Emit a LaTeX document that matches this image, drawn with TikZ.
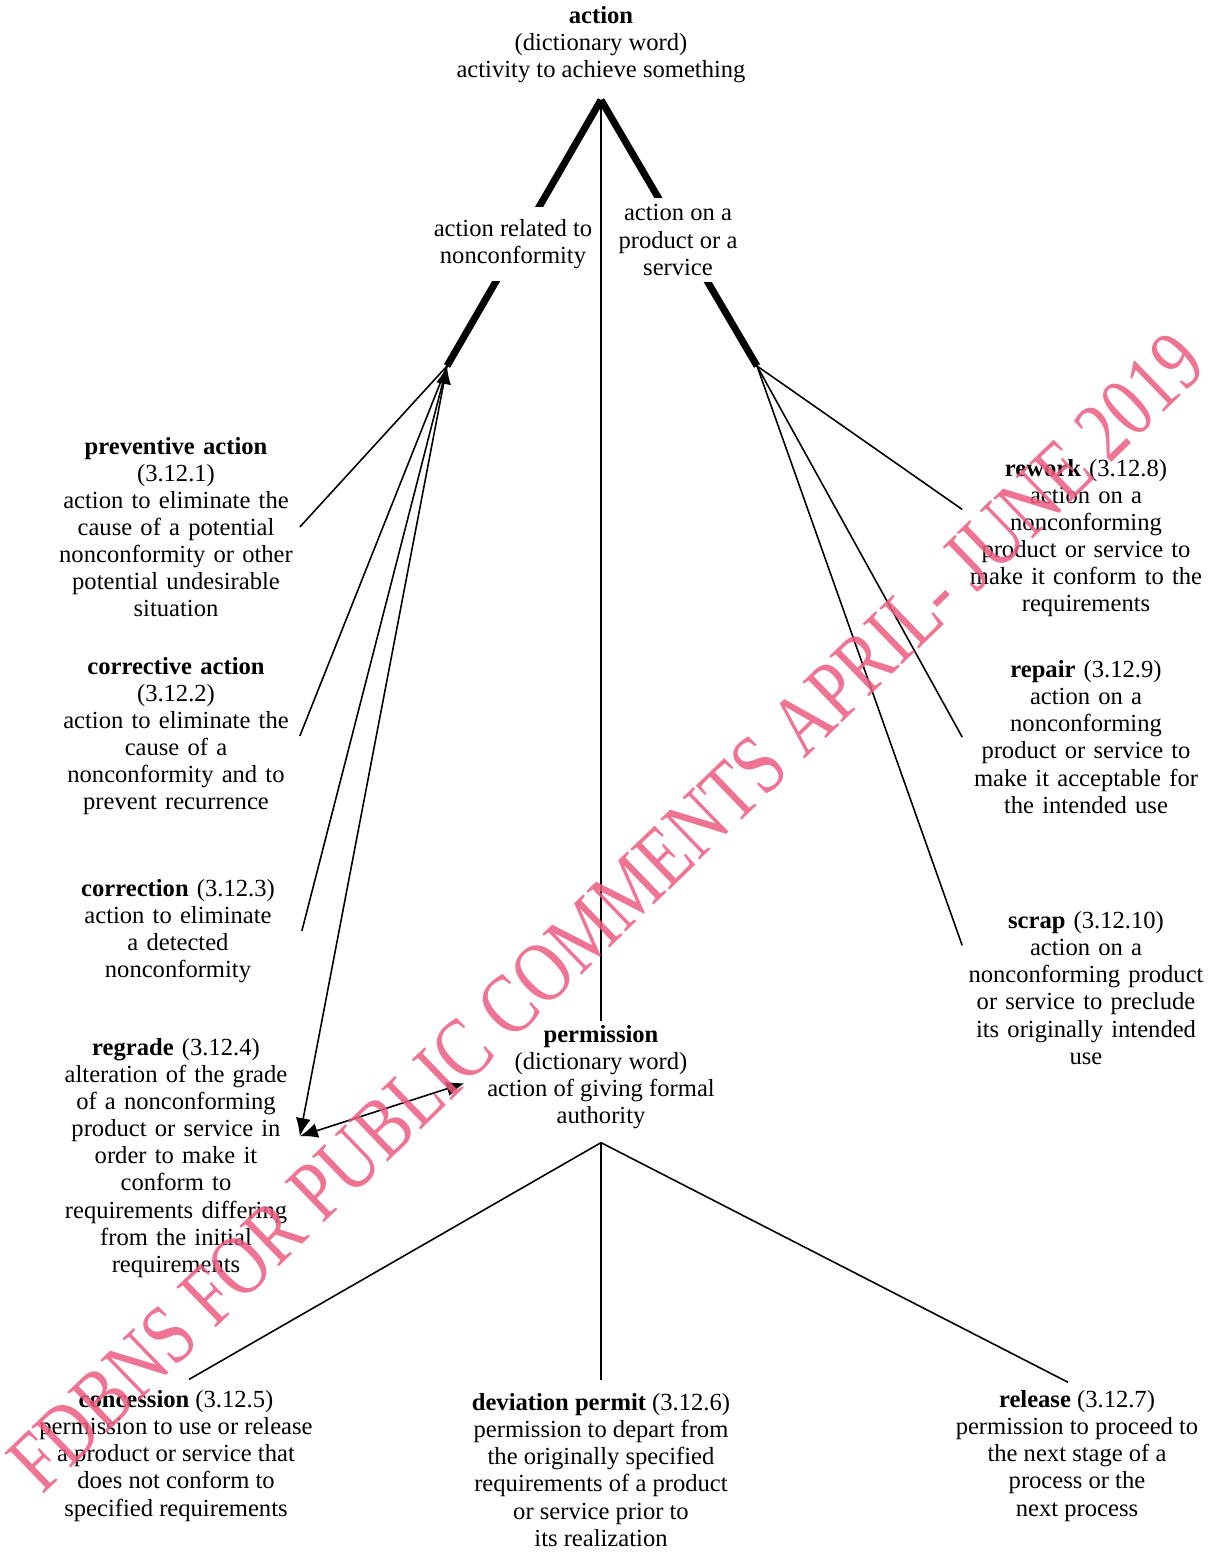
\documentclass[tikz,border=0pt]{standalone}
\usepackage{fontspec}
\setmainfont{Liberation Serif}
\usetikzlibrary{arrows.meta}
\definecolor{stampred}{RGB}{236,92,128}
\tikzset{term/.style={align=center,inner sep=2pt,font=\fontsize{14}{15.4}\selectfont},
         side/.style={term,text width=4.8cm},
         bar/.style={line width=4pt},
         link/.style={line width=0.9pt},
         tip/.style={link,{Latex[length=3.6mm,width=3mm]}-{Latex[length=3.6mm,width=3mm]}},
         stamp/.style={rotate=44,xscale=0.8,text=stampred,opacity=0.85,font=\fontsize{49}{49}\selectfont}}

\begin{document}
\begin{tikzpicture}[x=0.02cm,y=-0.02cm]
  \useasboundingbox (0,0) rectangle (1217,1552);
  \coordinate (apex) at (601,100);
  \coordinate (jl) at (447,366);
  \coordinate (jr) at (757,366);
  \draw[bar] (apex) -- (jl);
  \draw[bar] (apex) -- (jr);
  \node[term] (act) at (601,45) {\textbf{action}\\(dictionary word)\\activity to achieve something};
  \node[term,fill=white,inner ysep=7pt] (nc) at (513,244) {action related to\\nonconformity};
  \node[term,fill=white,inner ysep=4pt] (ps) at (678,240) {action on a\\product or a\\service};

  \node[side] (prev) at (176,527) {\textbf{preventive action}\\(3.12.1)\\action to eliminate the\\cause of a potential\\nonconformity or other\\potential undesirable\\situation};
  \node[side] (corr) at (176,736) {\textbf{corrective action}\\(3.12.2)\\action to eliminate the\\cause of a\\nonconformity and to\\prevent recurrence};
  \node[side] (crn) at (178,931) {\textbf{correction} (3.12.3)\\action to eliminate\\a detected\\nonconformity};
  \node[side] (regr) at (176,1158) {\textbf{regrade} (3.12.4)\\alteration of the grade\\of a nonconforming\\product or service in\\order to make it\\conform to\\requirements differing\\from the initial\\requirements};

  \node[side] (rew) at (1086,538) {\textbf{rework} (3.12.8)\\action on a\\nonconforming\\product or service to\\make it conform to the\\requirements};
  \node[side] (rep) at (1086,737) {\textbf{repair} (3.12.9)\\action on a\\nonconforming\\product or service to\\make it acceptable for\\the intended use};
  \node[side] (scr) at (1086,988) {\textbf{scrap} (3.12.10)\\action on a\\nonconforming product\\or service to preclude\\its originally intended\\use};

  \node[term] (perm) at (601,1077) {\textbf{permission}\\(dictionary word)\\action of giving formal\\authority};
  \coordinate (pb) at ([yshift=-0.2cm]perm.south);

  \node[term] (conc) at (176,1456) {\textbf{concession} (3.12.5)\\permission to use or release\\a product or service that\\does not conform to\\specified requirements};
  \node[term] (dev) at (601,1470) {\textbf{deviation permit} (3.12.6)\\permission to depart from\\the originally specified\\requirements of a product\\or service prior to\\its realization};
  \node[term] (rel) at (1077,1456) {\textbf{release} (3.12.7)\\permission to proceed to\\the next stage of a\\process or the\\next process};

  \draw[link] (apex) -- (perm.north);
  \draw[link] (prev.east) -- (jl);
  \draw[link] (corr.east) -- (jl);
  \draw[link] (crn.east) -- (jl);
  \draw[tip] (regr.10) -- (jl);
  \draw[tip,shorten >=0.4cm] (regr.10) -- (perm.west);
  \draw[link] (jr) -- (rew.167);
  \draw[link] (jr) -- (rep.west);
  \draw[link] (jr) -- (scr.161);
  \draw[link,shorten >=0.3cm] (pb) -- (conc.north);
  \draw[link,shorten >=0.2cm] (pb) -- (dev.north);
  \draw[link,shorten >=0.2cm] (pb) -- (rel.north);

  \node[stamp] (mark) at (606,912) {FDBNS FOR PUBLIC COMMENTS APRIL- JUNE 2019};
\end{tikzpicture}
\end{document}
